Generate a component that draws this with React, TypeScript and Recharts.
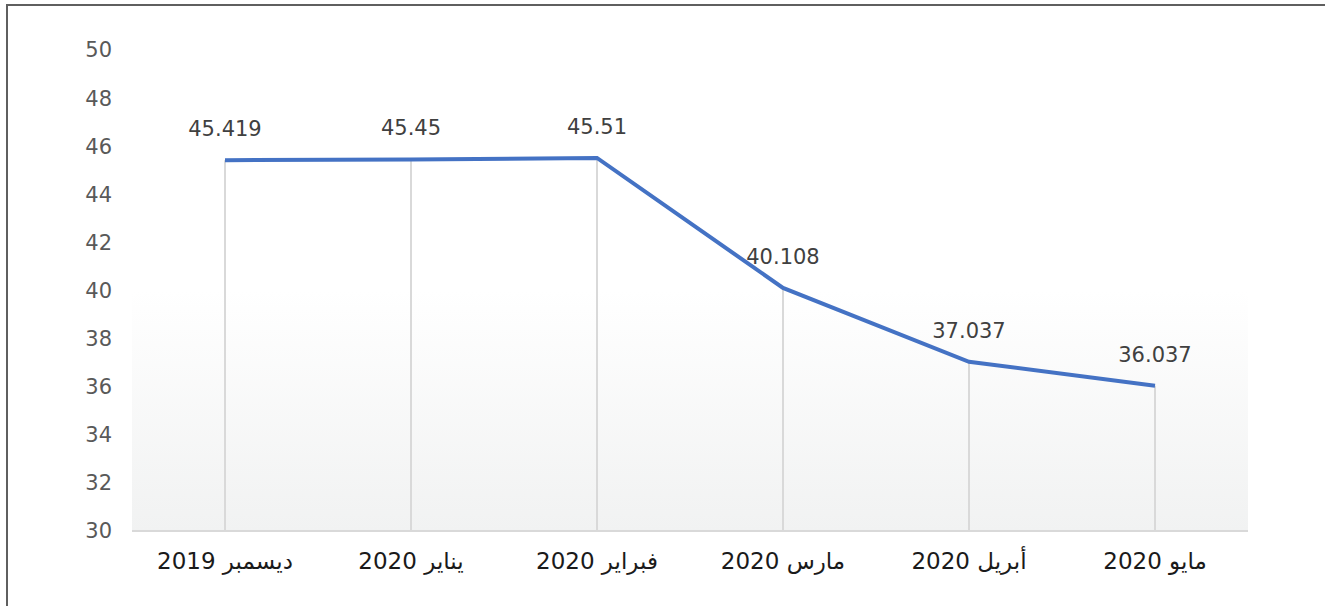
import React from "react";
import {
  ComposedChart,
  Line,
  Bar,
  XAxis,
  YAxis,
  LabelList,
  ReferenceArea,
} from "recharts";

const months = ["ديسمبر 2019", "يناير 2020", "فبراير 2020", "مارس 2020", "أبريل 2020", "مايو 2020"];
const values = [45.419, 45.45, 45.51, 40.108, 37.037, 36.037];
const yTicks = [30, 32, 34, 36, 38, 40, 42, 44, 46, 48, 50];

const data = months.map((m, i) => ({ name: m, value: values[i] }));

const CategoryTick = (props: any) => {
  const { x, y, payload } = props;
  return (
    <text
      x={x}
      y={y}
      dy="0.71em"
      textAnchor="middle"
      direction="rtl"
      fill="#1a1a1a"
      fontSize={23}
      fontFamily="'DejaVu Sans', sans-serif"
    >
      {payload.value}
    </text>
  );
};

export default function App() {
  return (
    <div style={{ position: "absolute", left: 0, top: 0, width: 1325, height: 606, background: "#fff" }}>
      <div
        style={{
          position: "absolute",
          left: 6,
          top: 4,
          width: 1319,
          height: 602,
          borderTop: "2px solid #5f5f5f",
          borderLeft: "2px solid #5f5f5f",
          boxSizing: "border-box",
        }}
      />
      <div style={{ position: "absolute", left: 0, top: 0 }}>
        <ComposedChart
          width={1325}
          height={606}
          data={data}
          margin={{ top: 50, right: 77, left: 62, bottom: 35 }}
        >
          <defs>
            <linearGradient id="bgFade" x1="0" y1="0" x2="0" y2="1">
              <stop offset="0%" stopColor="#ffffff" />
              <stop offset="100%" stopColor="#f1f2f2" />
            </linearGradient>
          </defs>
          <ReferenceArea y1={30} y2={40} fill="url(#bgFade)" fillOpacity={1} stroke="none" />
          <XAxis
            dataKey="name"
            tick={<CategoryTick />}
            tickLine={false}
            axisLine={{ stroke: "#d9d9d9", strokeWidth: 2 }}
            tickMargin={16}
            height={40}
            interval={0}
          />
          <YAxis
            domain={[30, 50]}
            ticks={yTicks}
            tick={{ fontSize: 21, fill: "#595959", fontFamily: "'DejaVu Sans', sans-serif" }}
            tickLine={false}
            axisLine={false}
            tickMargin={14}
            width={70}
          />
          <Bar dataKey="value" barSize={2} fill="#d9d9d9" isAnimationActive={false} />
          <Line
            type="linear"
            dataKey="value"
            stroke="#4472c4"
            strokeWidth={4}
            dot={false}
            isAnimationActive={false}
          >
            <LabelList
              dataKey="value"
              position="top"
              offset={24}
              fill="#404040"
              fontSize={21}
              fontFamily="'DejaVu Sans', sans-serif"
            />
          </Line>
        </ComposedChart>
      </div>
    </div>
  );
}
